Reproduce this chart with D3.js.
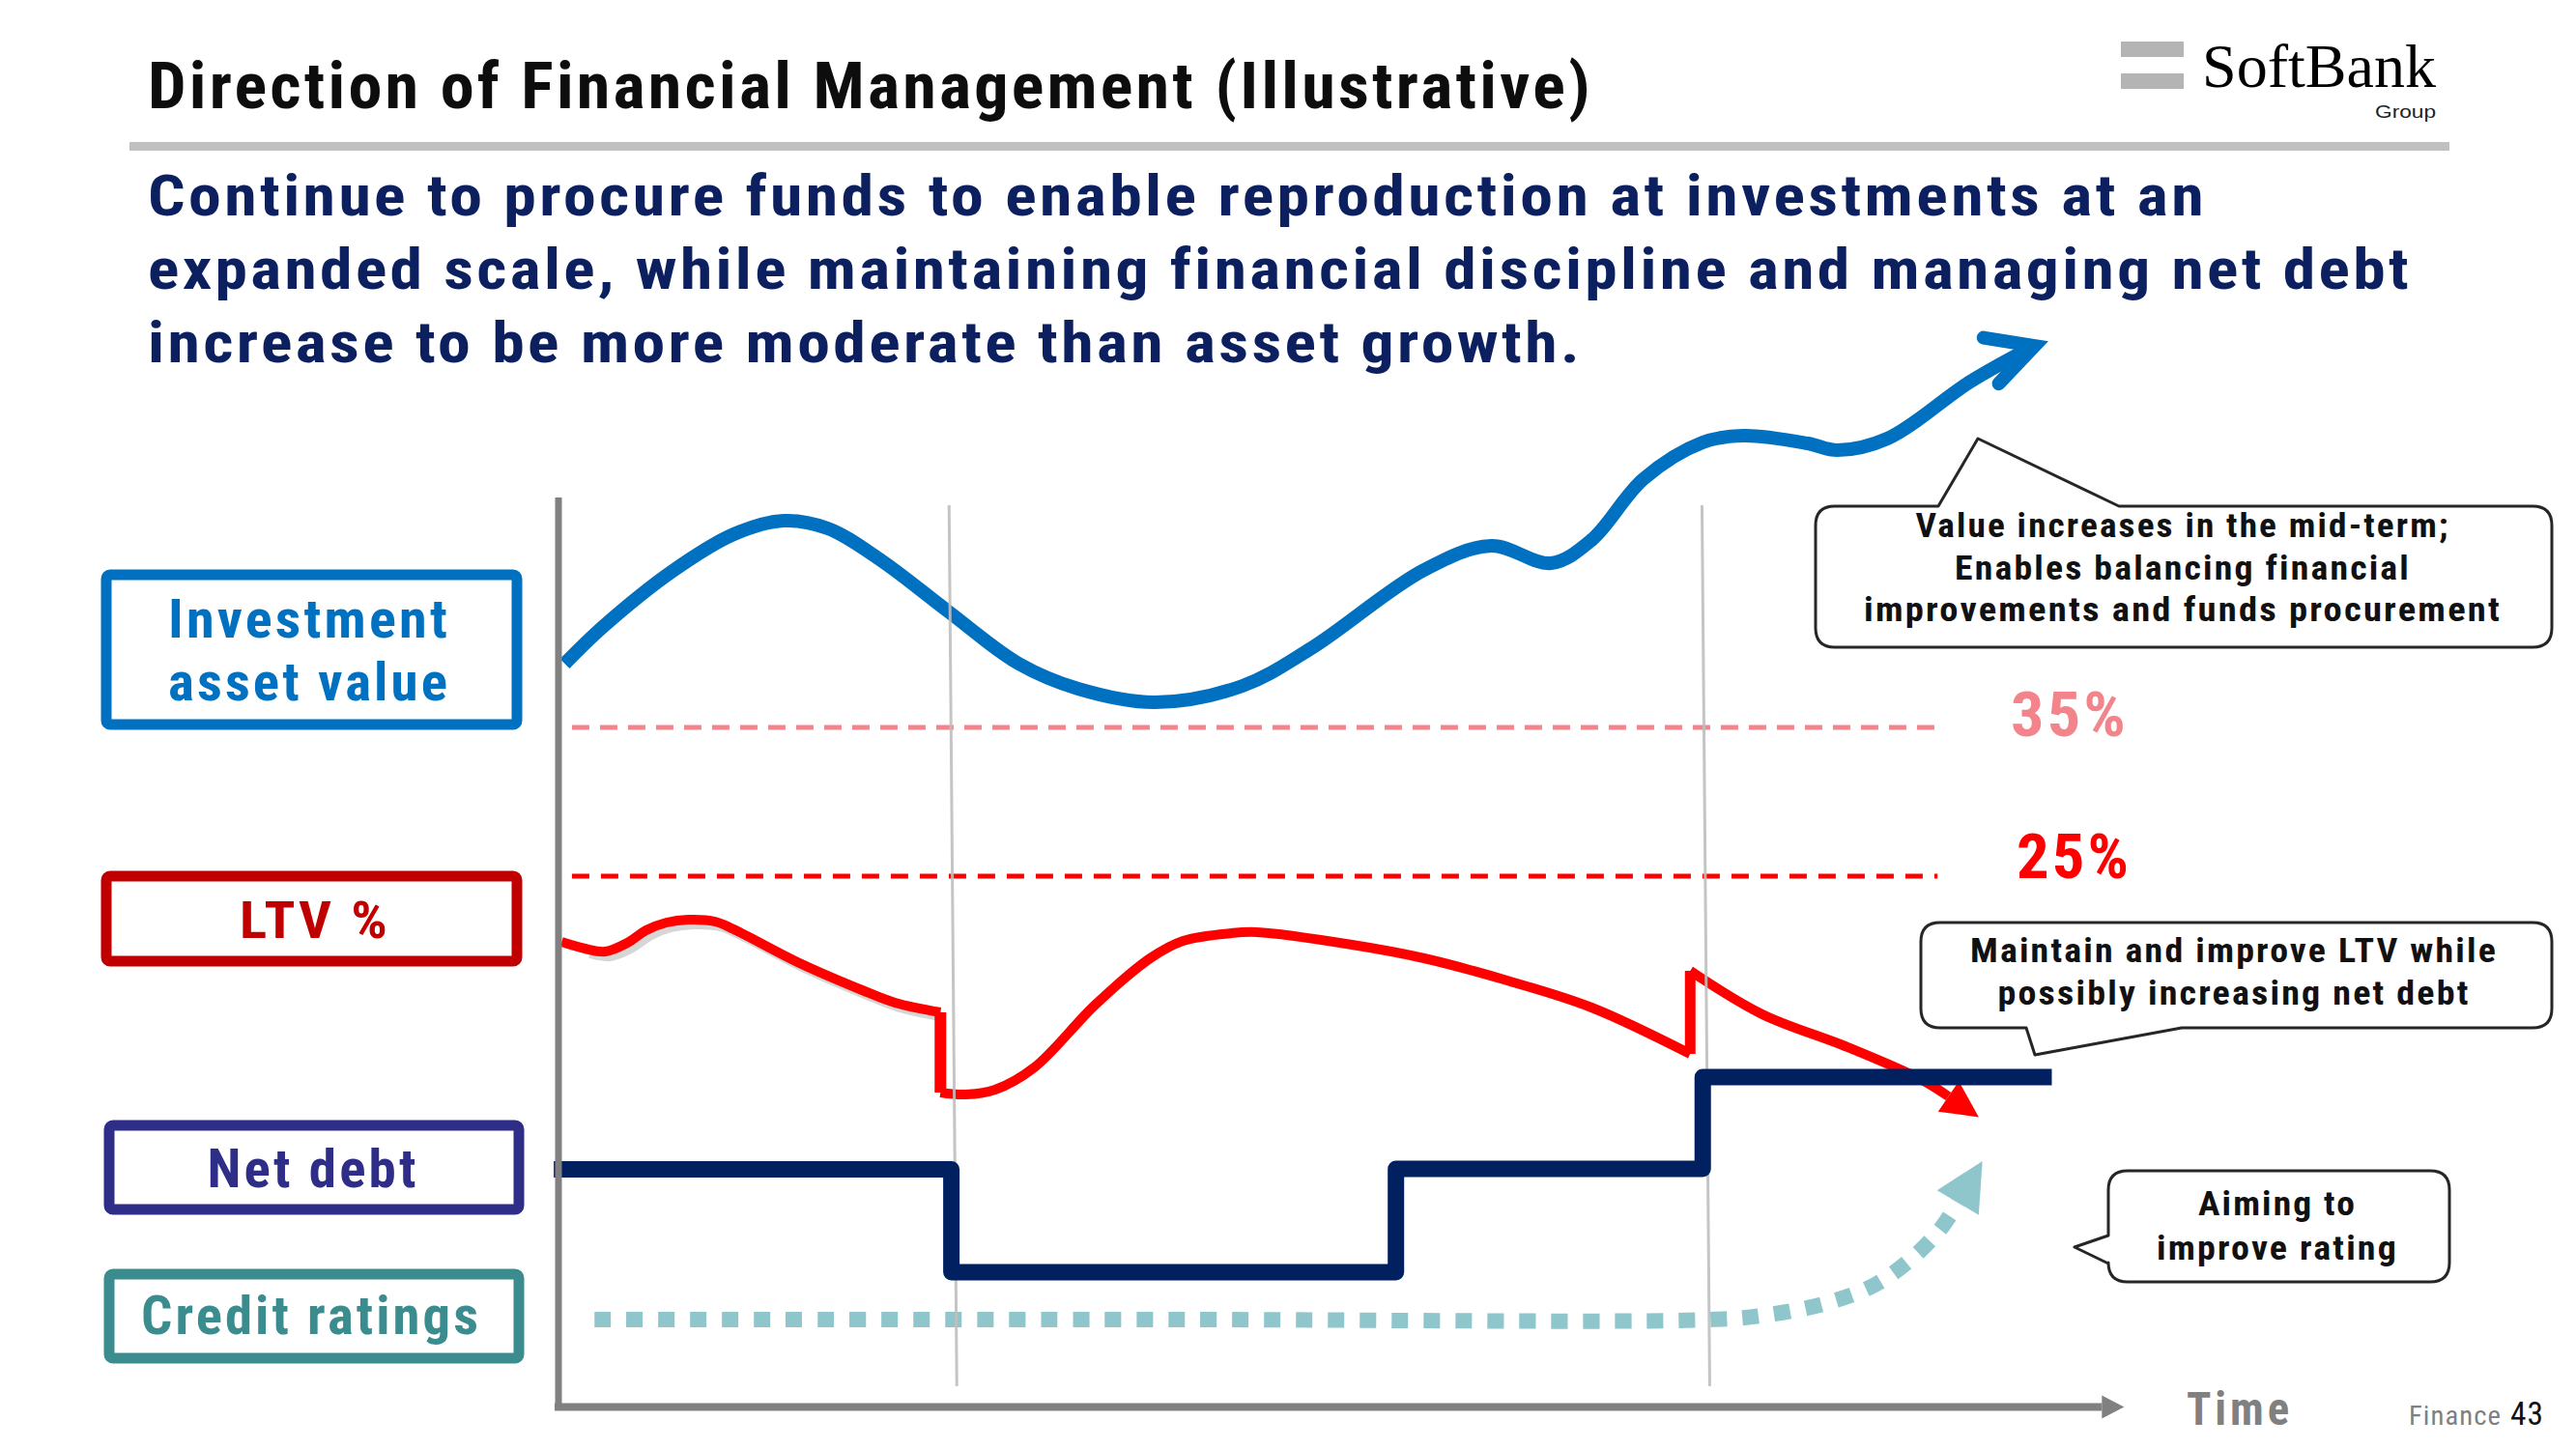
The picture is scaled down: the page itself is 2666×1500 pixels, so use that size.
<!DOCTYPE html>
<html><head><meta charset="utf-8">
<script src="https://cdn.jsdelivr.net/npm/d3@7"></script>
<style>body{margin:0;background:#fff}svg{display:block}</style>
</head><body><svg id="c" width="2666" height="1500"></svg>
<script>
// ---------------- DATA (illustrative levels: time 0-100, level 0-110) ----------------
const seriesLabels = [["Investment", "asset value"], ["LTV %"], ["Net debt"], ["Credit ratings"]];
const periodBoundaries = [25.2, 73.3];

const assetValue = [
  [0.4, 76.8], [2.9, 80.7], [7.3, 86.4], [11.2, 90.2], [14.4, 91.6], [17.2, 90.8],
  [20.6, 87.5], [24.9, 82.2], [29.4, 76.8], [33.2, 74.2], [38.1, 72.8], [43.7, 74.5],
  [48.1, 78.4], [55.3, 86.5], [59.6, 89.0], [63.4, 87.2], [66.0, 89.6], [69.3, 95.9],
  [73.1, 99.7], [75.7, 100.4], [79.8, 99.6], [81.7, 98.9], [84.9, 100.1], [90.2, 106.0],
  [94.3, 109.7]
];

const ltvPhase1 = [
  [0.2, 48.0], [1.7, 47.3], [3.0, 47.0], [4.4, 47.9], [5.6, 49.2], [6.9, 50.0],
  [8.3, 50.3], [10.0, 50.1], [11.2, 49.3], [15.4, 45.8], [19.4, 43.0], [21.5, 41.7], [24.4, 40.7]
];
const ltvPhase2 = [
  [24.4, 32.4], [26.0, 32.2], [27.9, 32.7], [30.4, 35.0], [34.3, 41.5], [37.8, 46.3],
  [39.9, 48.1], [43.0, 48.9], [44.6, 49.0], [50.7, 47.7], [55.3, 46.3], [60.6, 44.0],
  [66.0, 41.2], [72.3, 36.4]
];
const ltvPhase3 = [
  [72.3, 45.0], [76.9, 40.5], [82.2, 37.2], [87.0, 33.8], [88.8, 32.0]
];

const netDebt = [[-0.3, 24.45], [25.1, 13.8], [53.5, 24.5], [73.1, 34.0], [95.4, 34.0]];

const creditRatings = [
  [2.3, 8.9], [40.0, 8.9], [73.6, 8.9], [77.3, 9.4], [81.0, 10.6], [84.1, 12.5],
  [86.5, 15.3], [88.3, 18.3], [89.4, 21.0]
];

const thresholdLabels = ["35%", "25%"];
const thresholdLevels = [70.2, 54.8];
const thresholdSpan = [0.86, 88.1];

const axisTitle = "Time";
const titleText = "Direction of Financial Management (Illustrative)";
const subtitleLines = [
  "Continue to procure funds to enable reproduction at investments at an",
  "expanded scale, while maintaining financial discipline and managing net debt",
  "increase to be more moderate than asset growth."
];
const callout1 = ["Value increases in the mid-term;", "Enables balancing financial", "improvements and funds procurement"];
const callout2 = ["Maintain and improve LTV while", "possibly increasing net debt"];
const callout3 = ["Aiming to", "improve rating"];

// ---------------- DRAWING ----------------
const NARROW = '"Liberation Sans Narrow","Arial Narrow","Roboto Condensed","Liberation Sans",Arial,sans-serif';
const svg = d3.select('#c');
svg.append('rect').attr('width', 2666).attr('height', 1500).attr('fill', '#fff');

const x = d3.scaleLinear().domain([0, 100]).range([578, 2198]);
const y = d3.scaleLinear().domain([0, 110]).range([1455, 355]);
const smooth = d3.line().x(d => x(d[0])).y(d => y(d[1])).curve(d3.curveCatmullRom.alpha(0.5));
const straight = d3.line().x(d => x(d[0])).y(d => y(d[1]));
const step = d3.line().x(d => x(d[0])).y(d => y(d[1])).curve(d3.curveStepAfter);

const defs = svg.append('defs');
function marker(id, d, fill, stroke, sw) {
  const m = defs.append('marker').attr('id', id).attr('markerUnits', 'userSpaceOnUse')
    .attr('viewBox', '-120 -120 240 240').attr('markerWidth', 240).attr('markerHeight', 240)
    .attr('refX', 0).attr('refY', 0).attr('orient', 'auto').style('overflow', 'visible');
  m.append('path').attr('d', d).attr('fill', fill).attr('stroke', stroke).attr('stroke-width', sw)
    .attr('stroke-linecap', 'round').attr('stroke-linejoin', 'miter').attr('stroke-miterlimit', 10);
}
marker('arrBlue', 'M-43,-32 L0,0 L-51,17.5', 'none', '#0070c0', 14);
marker('arrRed', 'M0,-19 L38,0 L0,19 Z', '#ff0000', 'none', 0);
marker('arrTeal', 'M0,-25 L50,0 L0,25 Z', '#8fc6cc', 'none', 0);
marker('arrAxis', 'M0,-12 L23,0 L0,12 Z', '#808080', 'none', 0);

function txt(s, px, py, size, o) {
  o = o || {};
  const t = svg.append('text').attr('x', px).attr('y', py).attr('font-size', size)
    .attr('font-family', o.family || NARROW).attr('font-weight', o.weight || 'bold')
    .attr('fill', o.fill || '#000').attr('text-anchor', o.anchor || 'start')
    .style('letter-spacing', (o.ls === undefined ? 2 : o.ls) + 'px').text(s);
  if (o.w) t.attr('textLength', o.w).attr('lengthAdjust', 'spacingAndGlyphs');
  return t;
}

// Header
txt(titleText, 153, 112, 66, {fill: '#0d0d0d', w: 1496, ls: 3});
svg.append('rect').attr('x', 134).attr('y', 147).attr('width', 2401).attr('height', 9).attr('fill', '#c0c0c0');
const subW = [2131, 2343, 1485];
subtitleLines.forEach((s, i) => txt(s, 153, 223 + i * 76, 60, {fill: '#0c1f5f', w: subW[i], ls: 3}));

// Logo
svg.append('rect').attr('x', 2195).attr('y', 43).attr('width', 65).attr('height', 16).attr('fill', '#b4b4b5');
svg.append('rect').attr('x', 2195).attr('y', 76).attr('width', 65).attr('height', 16).attr('fill', '#b4b4b5');
txt('SoftBank', 2279, 90, 64, {family: '"Liberation Serif","Times New Roman",serif', weight: 'normal', w: 242, ls: 0});
txt('Group', 2458, 122, 19, {family: '"Liberation Sans",Arial,sans-serif', weight: 'normal', fill: '#222', w: 63, ls: 0});

// Left label boxes
const boxes = [
  {r: [110, 595, 425, 155], c: '#0070c0', lines: [[320, 660], [320, 725]], w: [292, 292], fs: 55},
  {r: [110, 907, 425, 88], c: '#c00000', lines: [[326, 971]], w: [156], fs: 54},
  {r: [113, 1165, 424, 87], c: '#2e2d87', lines: [[324, 1229]], w: [219], fs: 55},
  {r: [113, 1319, 424, 87], c: '#3b8c8e', lines: [[322, 1381]], w: [352], fs: 56}
];
boxes.forEach((b, i) => {
  svg.append('rect').attr('x', b.r[0]).attr('y', b.r[1]).attr('width', b.r[2]).attr('height', b.r[3])
    .attr('rx', 4).attr('fill', '#fff').attr('stroke', b.c).attr('stroke-width', 11);
  seriesLabels[i].forEach((s, j) => txt(s, b.lines[j][0], b.lines[j][1], b.fs, {fill: b.c, anchor: 'middle', w: b.w[j], ls: 3}));
});

const plot = svg.append('g');

// Threshold dashed lines
const thColors = ['#f4848c', '#ff0000'];
thresholdLevels.forEach((lv, i) => {
  plot.append('path').attr('d', straight([[thresholdSpan[0], lv], [thresholdSpan[1], lv]]))
    .attr('stroke', thColors[i]).attr('stroke-width', 5).attr('fill', 'none')
    .attr('stroke-dasharray', i ? '18 12' : '18 11');
});
txt(thresholdLabels[0], 2081, 762, 65, {fill: thColors[0], w: 122, ls: 3});
txt(thresholdLabels[1], 2087, 909, 65, {fill: thColors[1], w: 119, ls: 3});

// Investment asset value
plot.append('path').attr('d', smooth(assetValue)).attr('fill', 'none').attr('stroke', '#0070c0')
  .attr('stroke-width', 14).attr('stroke-linecap', 'butt').attr('marker-end', 'url(#arrBlue)');

// LTV
plot.append('path').attr('d', smooth(ltvPhase1.slice(1))).attr('fill', 'none').attr('stroke', '#d6d6d6')
  .attr('stroke-width', 10).attr('transform', 'translate(5,5)');
const ltvG = plot.append('g').attr('fill', 'none').attr('stroke', '#ff0000').attr('stroke-width', 10).attr('stroke-linejoin', 'round');
ltvG.append('path').attr('d', smooth(ltvPhase1));
ltvG.append('path').attr('d', straight([ltvPhase1[ltvPhase1.length - 1], ltvPhase2[0]])).attr('stroke-width', 12);
ltvG.append('path').attr('d', smooth(ltvPhase2));
ltvG.append('path').attr('d', straight([ltvPhase2[ltvPhase2.length - 1], ltvPhase3[0]])).attr('stroke-width', 11);
ltvG.append('path').attr('d', smooth(ltvPhase3)).attr('marker-end', 'url(#arrRed)');

// Credit ratings
plot.append('path').attr('d', smooth(creditRatings)).attr('fill', 'none').attr('stroke', '#8fc6cc')
  .attr('stroke-width', 16).attr('stroke-dasharray', '17 16').attr('marker-end', 'url(#arrTeal)');

// Period gridlines
periodBoundaries.forEach(t => {
  plot.append('line').attr('x1', x(t) - 4).attr('y1', y(93.2)).attr('x2', x(t) + 4).attr('y2', y(2.0))
    .attr('stroke', '#bfbfbf').attr('stroke-width', 3).attr('opacity', 0.9);
});

// Net debt
plot.append('path').attr('d', step(netDebt)).attr('fill', 'none').attr('stroke', '#002060')
  .attr('stroke-width', 17).attr('stroke-linejoin', 'round');

// Axes
plot.append('path').attr('d', straight([[0, 94], [0, -0.4]])).attr('stroke', '#808080').attr('stroke-width', 7);
plot.append('path').attr('d', straight([[-0.25, -0.15], [98.6, -0.15]])).attr('stroke', '#808080')
  .attr('stroke-width', 8).attr('marker-end', 'url(#arrAxis)');
txt(axisTitle, 2263, 1475, 48, {fill: '#808080', w: 110, ls: 4});
txt('Finance', 2493, 1475, 28, {fill: '#808080', weight: 'normal', w: 96, ls: 1});
txt('43', 2598, 1475, 33, {fill: '#111', weight: 'normal', w: 35, ls: 1});

// Callouts
function bubble(x0, y0, x1, y1, r, side, a, b, tip) {
  let d = `M${x0 + r},${y0}`;
  if (side === 'top') d += ` L${a},${y0} L${tip[0]},${tip[1]} L${b},${y0}`;
  d += ` L${x1 - r},${y0} Q${x1},${y0} ${x1},${y0 + r} L${x1},${y1 - r} Q${x1},${y1} ${x1 - r},${y1}`;
  if (side === 'bottom') d += ` L${b},${y1} L${tip[0]},${tip[1]} L${a},${y1}`;
  d += ` L${x0 + r},${y1} Q${x0},${y1} ${x0},${y1 - r}`;
  if (side === 'left') d += ` L${x0},${b} L${tip[0]},${tip[1]} L${x0},${a}`;
  d += ` L${x0},${y0 + r} Q${x0},${y0} ${x0 + r},${y0} Z`;
  svg.append('path').attr('d', d).attr('fill', '#fff').attr('stroke', '#262626').attr('stroke-width', 3)
    .attr('stroke-linejoin', 'round');
}
bubble(1879, 524, 2641, 670, 20, 'top', 2006, 2193, [2047, 454]);
const c1w = [553, 472, 660];
callout1.forEach((s, i) => txt(s, 2259, 556 + i * 43.5, 35, {fill: '#111', anchor: 'middle', w: c1w[i], ls: 2}));
bubble(1988, 955, 2641, 1064, 20, 'bottom', 2097, 2258, [2106, 1092]);
const c2w = [546, 489];
callout2.forEach((s, i) => txt(s, 2312, 996 + i * 44, 35, {fill: '#111', anchor: 'middle', w: c2w[i], ls: 2}));
bubble(2182, 1212, 2535, 1327, 20, 'left', 1279, 1308, [2147, 1291]);
const c3w = [164, 250];
callout3.forEach((s, i) => txt(s, 2357, 1258 + i * 46, 35, {fill: '#111', anchor: 'middle', w: c3w[i], ls: 2}));
</script></body></html>
